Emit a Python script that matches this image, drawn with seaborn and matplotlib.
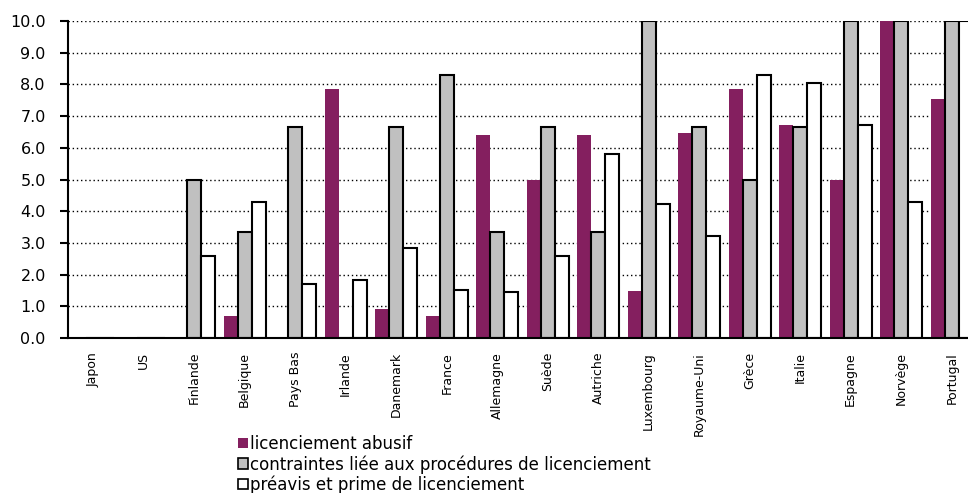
import numpy as np
import pandas as pd
import seaborn as sns
import matplotlib
import matplotlib.pyplot as plt
from matplotlib.patches import Patch
from matplotlib.ticker import FixedLocator
matplotlib.use("Agg")

pays = ["Japon", "US", "Finlande", "Belgique", "Pays Bas", "Irlande", "Danemark",
        "France", "Allemagne", "Suède", "Autriche", "Luxembourg", "Royaume-Uni",
        "Grèce", "Italie", "Espagne", "Norvège", "Portugal"]
series = ["licenciement abusif",
          "contraintes liée aux procédures de licenciement",
          "préavis et prime de licenciement"]
licenciement_abusif = [0, 0, 0, 0.7, 0, 7.85, 0.9, 0.7, 6.4, 5.0, 6.4, 1.47,
                       6.47, 7.85, 6.71, 5.0, 10.0, 7.54]
contraintes_procedures = [0, 0, 5.0, 3.33, 6.67, 0, 6.67, 8.3, 3.33, 6.67, 3.33, 10.0,
                          6.67, 5.0, 6.67, 10.0, 10.0, 10.0]
preavis_prime = [0, 0, 2.6, 4.3, 1.7, 1.83, 2.85, 1.52, 1.44, 2.6, 5.82, 4.24,
                 3.23, 8.3, 8.04, 6.71, 4.3, 10.0]
couleurs = ["#841F5F", "#C0C0C0", "#FFFFFF"]

df = pd.DataFrame({
    "pays": pays * 3,
    "serie": np.repeat(series, len(pays)),
    "valeur": licenciement_abusif + contraintes_procedures + preavis_prime,
})

sns.set_style("white")
plt.rcParams["font.family"] = ["DejaVu Sans"]
plt.rcParams["text.color"] = "black"
plt.rcParams["xtick.color"] = "black"
plt.rcParams["ytick.color"] = "black"

fig = plt.figure(figsize=(9.68, 4.93), dpi=100)
# axes runs past the right edge, as in the original (Portugal is cut off)
ax = fig.add_axes([68 / 968, 1 - 338 / 493, 909 / 968, 317 / 493])

sns.barplot(data=df, x="pays", y="valeur", hue="serie", hue_order=series,
            palette=couleurs, saturation=1, width=0.83, gap=0, errorbar=None,
            edgecolor="black", linewidth=1.5, legend=False, ax=ax)
for patch in ax.containers[0]:
    patch.set_linewidth(0)

ax.set_xlim(-0.5, len(pays) - 0.5)
ax.set_ylim(0, 10)
ax.set_yticks(np.arange(0, 11, 1))
ax.set_yticklabels([f"{v:.1f}" for v in range(11)], fontsize=11.5)
ax.set_xticks(range(len(pays)))
ax.set_xticklabels(pays, rotation=90, fontsize=9)
ax.xaxis.set_minor_locator(FixedLocator(np.arange(-0.5, len(pays), 1)))
ax.tick_params(axis="x", which="major", length=0, pad=10)
ax.tick_params(axis="x", which="minor", direction="inout", length=9, width=1.5)
ax.tick_params(axis="y", direction="out", length=6, width=1.5, pad=10, left=True)
ax.set_xlabel("")
ax.set_ylabel("")

ax.yaxis.grid(True, color="black", linestyle=(0, (1, 2)), linewidth=1)
ax.set_axisbelow(True)
for side in ["top", "right"]:
    ax.spines[side].set_visible(False)
for side in ["left", "bottom"]:
    ax.spines[side].set_color("black")
    ax.spines[side].set_linewidth(1.5)

handles = [Patch(facecolor=couleurs[0], edgecolor="none"),
           Patch(facecolor=couleurs[1], edgecolor="black", linewidth=1.2),
           Patch(facecolor=couleurs[2], edgecolor="black", linewidth=1.2)]
fig.legend(handles, series, loc="upper left", bbox_to_anchor=(238 / 968, 1 - 435 / 493),
           frameon=False, fontsize=12, handlelength=0.6, handleheight=0.6,
           handletextpad=0.15, labelspacing=0.12, borderpad=0, borderaxespad=0)

fig.savefig("out.png", dpi=100)
